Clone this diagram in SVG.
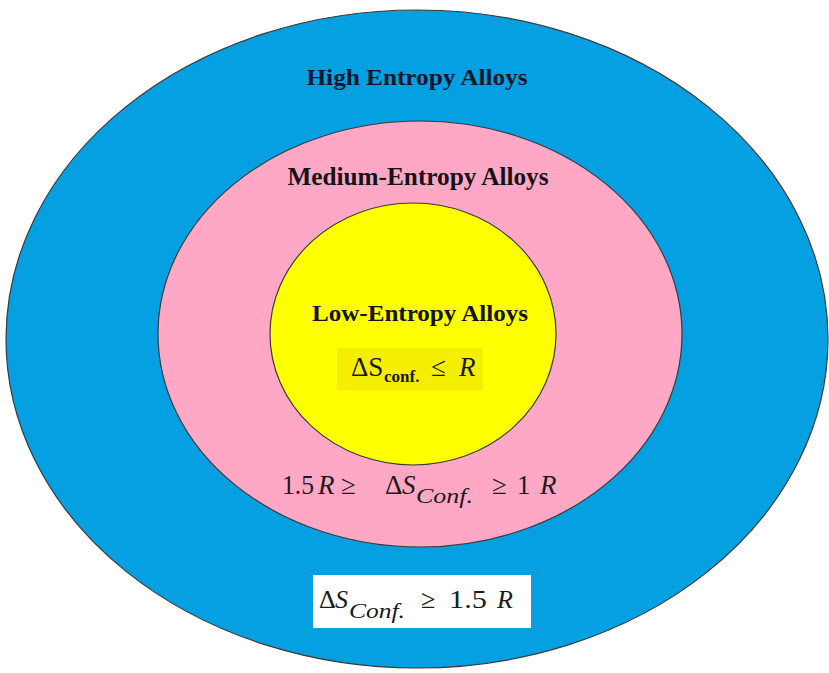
<svg xmlns="http://www.w3.org/2000/svg" width="829" height="673" viewBox="0 0 829 673">
<style>
.ring{stroke:#3a3a3a;stroke-width:1.2}
.lbl{font-family:"Liberation Serif","Times New Roman",serif;font-weight:bold;fill:#141414;text-anchor:middle}
.m{font-family:"Liberation Serif","Times New Roman",serif;fill:#1a1a1a}
.it{font-style:italic}
</style>
<rect width="829" height="673" fill="#ffffff"/>
<g id="high">
<ellipse class="ring" cx="417" cy="339" rx="411" ry="329" fill="#05A0E2"/>
<text class="lbl" x="417" y="85" font-size="24" textLength="221" lengthAdjust="spacingAndGlyphs" style="fill:#0b1630">High Entropy Alloys</text>
<rect x="313" y="575" width="218" height="53" fill="#ffffff"/>
<text class="m" y="608" font-size="26"><tspan x="319">Δ</tspan><tspan x="335" class="it">S</tspan><tspan x="349" y="618" class="it" font-size="21" textLength="56" lengthAdjust="spacingAndGlyphs">Conf.</tspan><tspan x="421" y="608">≥</tspan><tspan x="449" textLength="38" lengthAdjust="spacingAndGlyphs">1.5</tspan><tspan x="497" class="it">R</tspan></text>
</g>
<g id="medium">
<ellipse class="ring" cx="420" cy="334" rx="262" ry="213" fill="#FFA8C6"/>
<text class="lbl" x="418" y="185" font-size="25" textLength="261" lengthAdjust="spacingAndGlyphs">Medium-Entropy Alloys</text>
<text class="m" y="494" font-size="27"><tspan x="282" textLength="32" lengthAdjust="spacingAndGlyphs">1.5</tspan><tspan x="318" class="it">R</tspan><tspan x="341">≥</tspan><tspan x="385">Δ</tspan><tspan x="402" class="it">S</tspan><tspan x="416" y="503" class="it" font-size="21" textLength="57" lengthAdjust="spacingAndGlyphs">Conf.</tspan><tspan x="492" y="494">≥</tspan><tspan x="517">1</tspan><tspan x="540" class="it">R</tspan></text>
</g>
<g id="low">
<ellipse class="ring" cx="413" cy="334" rx="143" ry="131" fill="#FFFF00"/>
<text class="lbl" x="420" y="321" font-size="24" textLength="216" lengthAdjust="spacingAndGlyphs">Low-Entropy Alloys</text>
<rect x="337" y="348" width="146" height="42" fill="#F4EE00"/>
<text class="m" y="376" font-size="27"><tspan x="351">ΔS</tspan><tspan x="384" y="382" font-size="17" font-weight="bold">conf.</tspan><tspan x="431" y="376">≤</tspan><tspan x="459" class="it">R</tspan></text>
</g>
<g id="connectors"/>
</svg>
